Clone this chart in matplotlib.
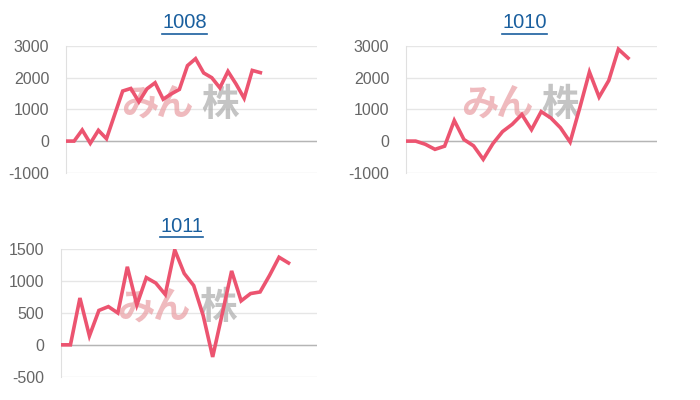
import numpy as np
import matplotlib.pyplot as plt
from matplotlib.lines import Line2D

plt.rcParams['font.family'] = ['Liberation Sans', 'DejaVu Sans']
plt.rcParams['axes.unicode_minus'] = False

titles = ['1008', '1010', '1011']
n_labels = [32, 27, 28]

vals_1008 = [0, 0, 350, -70, 340, 75, 830, 1580, 1660, 1240, 1650, 1840, 1320, 1490,
             1630, 2380, 2600, 2150, 2000, 1680, 2200, 1800, 1350, 2230, 2160]
vals_1010 = [0, 0, -100, -260, -160, 650, 50, -150, -575, -80, 300, 530, 840, 360,
             930, 730, 420, -30, 1050, 2180, 1390, 1910, 2900, 2620]
vals_1011 = [0, 0, 735, 140, 540, 600, 500, 1225, 625, 1055, 970, 790, 1490, 1120,
             930, 460, -190, 480, 1160, 690, 805, 830, 1090, 1375, 1285]
series = [vals_1008, vals_1010, vals_1011]

yticks = [[-1000, 0, 1000, 2000, 3000],
          [-1000, 0, 1000, 2000, 3000],
          [-500, 0, 500, 1000, 1500]]

# axes boxes in figure fraction (left, bottom, width, height)
boxes = [(0.0943, 0.568, 0.3586, 0.317),
         (0.580, 0.568, 0.3586, 0.317),
         (0.0871, 0.0583, 0.3657, 0.3185)]
title_y = [0.943, 0.435]

line_color = '#ec5470'
title_color = '#1a5f9e'
cjk = ['Noto Sans CJK JP', 'DejaVu Sans']

fig = plt.figure(figsize=(7, 4), dpi=100)

for i in range(3):
    l, b, w, h = boxes[i]
    ax = fig.add_axes([l, b, w, h])
    vals = series[i]
    x = np.arange(len(vals))

    ax.set_xlim(0, n_labels[i] - 1)
    ax.set_ylim(yticks[i][0], yticks[i][-1])
    ax.set_yticks(yticks[i])
    ax.set_xticks([])
    ax.grid(axis='y', color='#e6e6e6', linewidth=1)
    ax.axhline(0, color='#b5b5b5', linewidth=1, zorder=1)
    for s in ['top', 'right', 'bottom']:
        ax.spines[s].set_visible(False)
    ax.spines['left'].set_color('#e0e0e0')
    ax.tick_params(axis='y', length=0, pad=12, labelsize=11.5, labelcolor='#666666')
    ax.set_axisbelow(True)

    # watermark
    ax.text(0.22, 0.54, 'み', transform=ax.transAxes, ha='left', va='center',
            fontsize=27, fontweight='bold', color='#eaa3a8', alpha=0.75,
            family=cjk, zorder=2)
    ax.text(0.36, 0.54, 'ん', transform=ax.transAxes, ha='left', va='center',
            fontsize=27, fontweight='bold', color='#eaa3a8', alpha=0.75,
            family=cjk, zorder=2)
    ax.text(0.54, 0.54, '株', transform=ax.transAxes, ha='left', va='center',
            fontsize=27, fontweight='bold', color='#b0b0b0', alpha=0.75,
            family=cjk, zorder=2)

    ax.plot(x, vals, color=line_color, linewidth=2.6, solid_joinstyle='miter', zorder=3)

    # underlined title
    cx = l + w / 2 - 0.01
    ty = title_y[0] if i < 2 else title_y[1]
    t = fig.text(cx, ty, titles[i], ha='center', va='center', fontsize=14.5, color=title_color)
    fig.canvas.draw()
    bb = t.get_window_extent().transformed(fig.transFigure.inverted())
    fig.add_artist(Line2D([bb.x0, bb.x1], [bb.y0 - 0.003, bb.y0 - 0.003],
                          color=title_color, linewidth=1.2, transform=fig.transFigure))

fig.savefig('out.png', dpi=100)
